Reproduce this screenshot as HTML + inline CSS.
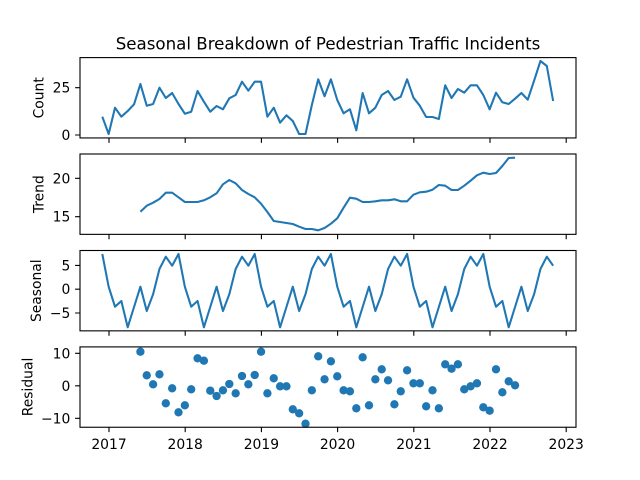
<!DOCTYPE html>
<html><head><meta charset="utf-8"><style>
html,body{margin:0;padding:0;background:#fff;}
svg{display:block;}
text{font-family:"DejaVu Sans","Liberation Sans",sans-serif;fill:#000;font-size:13.89px;}
.ln{fill:none;stroke:#1f77b4;stroke-width:2.08;stroke-linejoin:round;}
.ax{fill:none;stroke:#000;stroke-width:1.11;}
.xt{stroke:#000;stroke-width:4.85;stroke-dasharray:1.11 75.09;}
</style></head><body>
<svg width="640" height="480" viewBox="0 0 640 480" xmlns="http://www.w3.org/2000/svg">
<defs>
<marker id="dot" markerUnits="userSpaceOnUse" markerWidth="10" markerHeight="10" refX="5" refY="5" viewBox="0 0 10 10"><circle cx="5" cy="5" r="4.17" fill="#1f77b4"/></marker>
</defs>
<rect width="640" height="480" fill="#fff"/>
<text x="328" y="49.3" text-anchor="middle" style="font-size:16.67px">Seasonal Breakdown of Pedestrian Traffic Incidents</text>

<g transform="translate(102.3,0) scale(6.35,1)">
<polyline class="ln" vector-effect="non-scaling-stroke" points="0,116.7 1,134 2,107.7 3,116.7 4,111 5,104.3 6,84 7,105.7 8,104 9,87.7 10,98 11,93 12,104 13,113.7 14,111.7 15,91 16,101.7 17,111.7 18,106 19,109.3 20,98.3 21,95 22,81.7 23,90.7 24,81.7 25,81.7 26,116.7 27,107.7 28,122.7 29,115.3 30,121 31,134 32,134 33,105 34,79.3 35,96.3 36,79.3 37,100 38,113.3 39,109.3 40,130.3 41,93 42,113.3 43,107.7 44,95 45,91 46,100 47,96.7 48,79.3 49,97.7 50,105.7 51,117 52,117 53,119 54,85.3 55,98 56,89 57,92.7 58,85.3 59,85.3 60,95 61,109.3 62,92.7 63,102.3 64,104 65,98.7 66,93 67,99.7 68,80.7 69,61 70,66 71,101"/>
<polyline class="ln" vector-effect="non-scaling-stroke" points="6,211.7 7,205.7 8,202.7 9,199 10,192.7 11,192.7 12,197.3 13,202 14,202 15,202 16,200.3 17,197.3 18,193.3 19,184.3 20,180 21,183.3 22,190 23,194 24,197.3 25,203.7 26,212 27,221 28,222 29,223 30,224 31,226.7 32,229 33,229 34,230.3 35,228 36,223.7 37,218.3 38,207.7 39,197.7 40,198.7 41,202 42,202 43,201.3 44,200.3 45,200.3 46,199.3 47,201.3 48,201.3 49,194.7 50,192.3 51,191.7 52,189.7 53,185 54,185.7 55,190 56,190 57,185.7 58,180.7 59,175.3 60,172.7 61,174 62,173 63,166 64,158 65,157.7"/>
<polyline class="ln" vector-effect="non-scaling-stroke" points="0,254 1,286.7 2,306.7 3,301 4,327.3 5,307 6,286.7 7,311 8,294.3 9,269 10,256.7 11,265.7 12,254 13,286.7 14,306.7 15,301 16,327.3 17,307 18,286.7 19,311 20,294.3 21,269 22,256.7 23,265.7 24,254 25,286.7 26,306.7 27,301 28,327.3 29,307 30,286.7 31,311 32,294.3 33,269 34,256.7 35,265.7 36,254 37,286.7 38,306.7 39,301 40,327.3 41,307 42,286.7 43,311 44,294.3 45,269 46,256.7 47,265.7 48,254 49,286.7 50,306.7 51,301 52,327.3 53,307 54,286.7 55,311 56,294.3 57,269 58,256.7 59,265.7 60,254 61,286.7 62,306.7 63,301 64,327.3 65,307 66,286.7 67,311 68,294.3 69,269 70,256.7 71,265.7"/>
</g>

<polyline fill="none" stroke="none" marker-start="url(#dot)" marker-mid="url(#dot)" marker-end="url(#dot)" points="140.4,351.7 146.75,375.3 153.1,384.3 159.45,374.3 165.8,403.3 172.15,388.3 178.5,412.3 184.85,405.3 191.2,389.3 197.55,358.3 203.9,360.7 210.25,390.7 216.6,396 222.95,390.3 229.3,384 235.65,393.3 242,376 248.35,384.3 254.7,375 261.05,351.7 267.4,393.3 273.75,378.3 280.1,386.3 286.45,386.3 292.8,409.3 299.15,413.3 305.5,423.7 311.85,390.3 318.2,356.3 324.55,379.3 330.9,361.3 337.25,376.3 343.6,390.3 349.95,391.3 356.3,408.3 362.65,357.3 369,405.3 375.35,379.3 381.7,369.3 388.05,380.3 394.4,404.3 400.75,391.3 407.1,370.3 413.45,383.3 419.8,383.3 426.15,406.3 432.5,390.3 438.85,408.3 445.2,364.3 451.55,368.7 457.9,364.3 464.25,389.3 470.6,386.3 476.95,383.3 483.3,407.3 489.65,410.7 496,369.3 502.35,392.3 508.7,381.3 515.05,385.3"/>

<rect class="ax" x="80" y="57.6" width="496" height="80.35"/>
<rect class="ax" x="80" y="154" width="496" height="80.35"/>
<rect class="ax" x="80" y="250.5" width="496" height="80.35"/>
<rect class="ax" x="80" y="346.9" width="496" height="80.35"/>

<path stroke="#000" stroke-width="1.11" fill="none" d="M75.1 135H80M75.1 87.7H80M75.1 216.7H80M75.1 178.3H80M75.1 265.4H80M75.1 289.2H80M75.1 313H80M75.1 353.3H80M75.1 385.8H80M75.1 418.3H80"/>

<line class="xt" x1="108.45" y1="140.4" x2="567" y2="140.4"/>
<line class="xt" x1="108.45" y1="236.8" x2="567" y2="236.8"/>
<line class="xt" x1="108.45" y1="333.3" x2="567" y2="333.3"/>
<line class="xt" x1="108.45" y1="429.7" x2="567" y2="429.7"/>

<g text-anchor="end">
<text x="70.3" y="140">0</text>
<text x="70.3" y="92.7">25</text>
<text x="70.3" y="221.7">15</text>
<text x="70.3" y="183.3">20</text>
<text x="70.3" y="270.4">5</text>
<text x="70.3" y="294.2">0</text>
<text x="70.3" y="318">−5</text>
<text x="70.3" y="358.3">10</text>
<text x="70.3" y="390.8">0</text>
<text x="70.3" y="423.3">−10</text>
</g>
<g text-anchor="middle">
<text transform="translate(43.7,97.8) rotate(-90)">Count</text>
<text transform="translate(43.7,194.2) rotate(-90)">Trend</text>
<text transform="translate(41,290.7) rotate(-90)">Seasonal</text>
<text transform="translate(32.5,387) rotate(-90)">Residual</text>
<text x="109" y="449">2017</text>
<text x="185.2" y="449">2018</text>
<text x="261.4" y="449">2019</text>
<text x="337.5" y="449">2020</text>
<text x="413.9" y="449">2021</text>
<text x="490" y="449">2022</text>
<text x="566.2" y="449">2023</text>
</g>
</svg>
</body></html>
